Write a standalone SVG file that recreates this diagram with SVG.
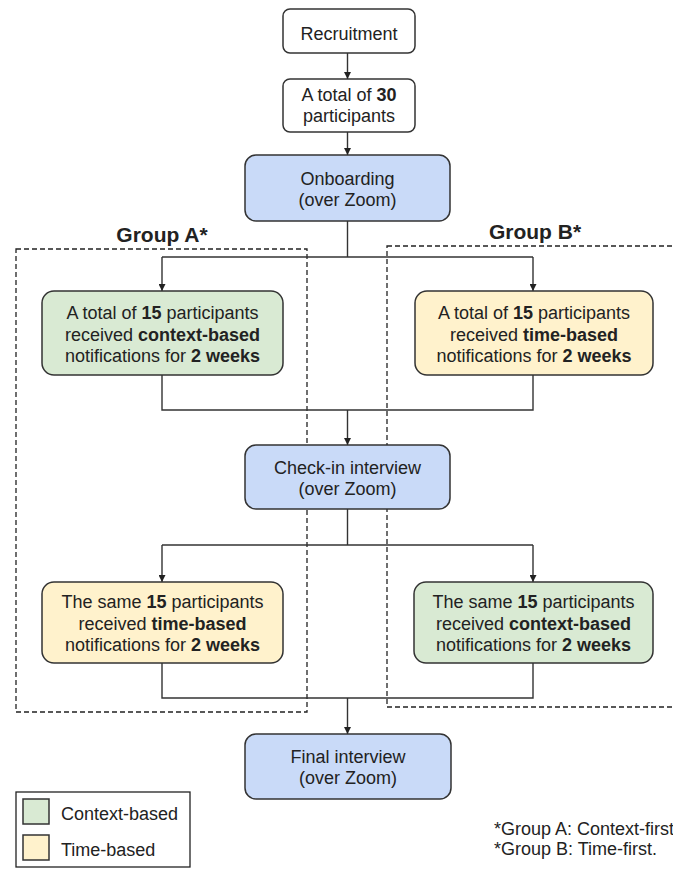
<svg xmlns="http://www.w3.org/2000/svg" width="673" height="871" viewBox="0 0 673 871">
<style>
  text { font-family: "Liberation Sans", Arial, sans-serif; font-size: 18px; fill: #222; }
  .c { text-anchor: middle; }
  .b { font-weight: bold; }
  .lbl { font-size: 21px; font-weight: bold; text-anchor: middle; }
  .box { stroke: #333; stroke-width: 1.5; }
  .white { fill: #ffffff; }
  .blue { fill: #c9daf8; }
  .green { fill: #d9ead3; }
  .yellow { fill: #fff2cc; }
  .conn { fill: none; stroke: #333; stroke-width: 1.4; }
  .dash { fill: none; stroke: #222; stroke-width: 1.3; stroke-dasharray: 5 3; }
</style>
<defs>
  <marker id="arr" viewBox="0 0 10 10" refX="10" refY="5" markerWidth="7" markerHeight="7" markerUnits="userSpaceOnUse" orient="auto">
    <path d="M0,0 L10,5 L0,10 z" fill="#222"/>
  </marker>
</defs>
<rect width="673" height="871" fill="#ffffff"/>

<g id="groupA">
  <rect class="dash" x="16" y="249" width="291" height="463"/>
  <text class="lbl" x="162" y="242">Group A*</text>
</g>
<g id="groupB">
  <rect class="dash" x="387" y="246" width="300" height="461"/>
  <text class="lbl" x="535" y="239">Group B*</text>
</g>

<g id="connectors">
  <path class="conn" d="M347.5,53 V79" marker-end="url(#arr)"/>
  <path class="conn" d="M347.5,132 V155" marker-end="url(#arr)"/>
  <path class="conn" d="M347.5,221 V257"/>
  <path class="conn" d="M162,257 H533"/>
  <path class="conn" d="M162,257 V291" marker-end="url(#arr)"/>
  <path class="conn" d="M533,257 V291" marker-end="url(#arr)"/>
  <path class="conn" d="M162,375 V410 H533 V375"/>
  <path class="conn" d="M347.5,410 V445" marker-end="url(#arr)"/>
  <path class="conn" d="M347.5,509 V545"/>
  <path class="conn" d="M162,545 H533"/>
  <path class="conn" d="M162,545 V582" marker-end="url(#arr)"/>
  <path class="conn" d="M533,545 V582" marker-end="url(#arr)"/>
  <path class="conn" d="M162,663 V698 H533 V663"/>
  <path class="conn" d="M347.5,698 V734" marker-end="url(#arr)"/>
</g>

<g id="recruitment">
  <rect class="box white" x="283" y="9" width="132" height="44" rx="7"/>
  <text class="c" x="349" y="40">Recruitment</text>
</g>
<g id="total30">
  <rect class="box white" x="283" y="79" width="132" height="53" rx="7"/>
  <text class="c" x="349" y="101">A total of <tspan class="b">30</tspan></text>
  <text class="c" x="349" y="122">participants</text>
</g>
<g id="onboarding">
  <rect class="box blue" x="245" y="155" width="205" height="66" rx="11"/>
  <text class="c" x="347.5" y="185">Onboarding</text>
  <text class="c" x="347.5" y="206">(over Zoom)</text>
</g>
<g id="a1">
  <rect class="box green" x="42" y="291" width="241" height="84" rx="12"/>
  <text class="c" x="162.5" y="319">A total of <tspan class="b">15</tspan> participants</text>
  <text class="c" x="162.5" y="340.5">received <tspan class="b">context-based</tspan></text>
  <text class="c" x="162.5" y="362">notifications for <tspan class="b">2 weeks</tspan></text>
</g>
<g id="b1">
  <rect class="box yellow" x="415" y="291" width="238" height="84" rx="12"/>
  <text class="c" x="534" y="319">A total of <tspan class="b">15</tspan> participants</text>
  <text class="c" x="534" y="340.5">received <tspan class="b">time-based</tspan></text>
  <text class="c" x="534" y="362">notifications for <tspan class="b">2 weeks</tspan></text>
</g>
<g id="checkin">
  <rect class="box blue" x="245" y="445" width="205" height="64" rx="11"/>
  <text class="c" x="347.5" y="474">Check-in interview</text>
  <text class="c" x="347.5" y="495">(over Zoom)</text>
</g>
<g id="a2">
  <rect class="box yellow" x="42" y="582" width="241" height="81" rx="12"/>
  <text class="c" x="162.5" y="608">The same <tspan class="b">15</tspan> participants</text>
  <text class="c" x="162.5" y="629.5">received <tspan class="b">time-based</tspan></text>
  <text class="c" x="162.5" y="651">notifications for <tspan class="b">2 weeks</tspan></text>
</g>
<g id="b2">
  <rect class="box green" x="414" y="582" width="239" height="81" rx="12"/>
  <text class="c" x="533.5" y="608">The same <tspan class="b">15</tspan> participants</text>
  <text class="c" x="533.5" y="629.5">received <tspan class="b">context-based</tspan></text>
  <text class="c" x="533.5" y="651">notifications for <tspan class="b">2 weeks</tspan></text>
</g>
<g id="final">
  <rect class="box blue" x="245" y="734" width="206" height="65" rx="11"/>
  <text class="c" x="348" y="763">Final interview</text>
  <text class="c" x="348" y="784">(over Zoom)</text>
</g>

<g id="legend">
  <rect x="16" y="792" width="174" height="75" fill="#ffffff" stroke="#222" stroke-width="1.3"/>
  <rect class="box green" x="23" y="799" width="26" height="25"/>
  <rect class="box yellow" x="23" y="835" width="26" height="25"/>
  <text x="61" y="819.5">Context-based</text>
  <text x="61" y="855.5">Time-based</text>
</g>

<g id="footnote">
  <text x="494" y="835">*Group A: Context-first</text>
  <text x="494" y="855">*Group B: Time-first.</text>
</g>
</svg>
